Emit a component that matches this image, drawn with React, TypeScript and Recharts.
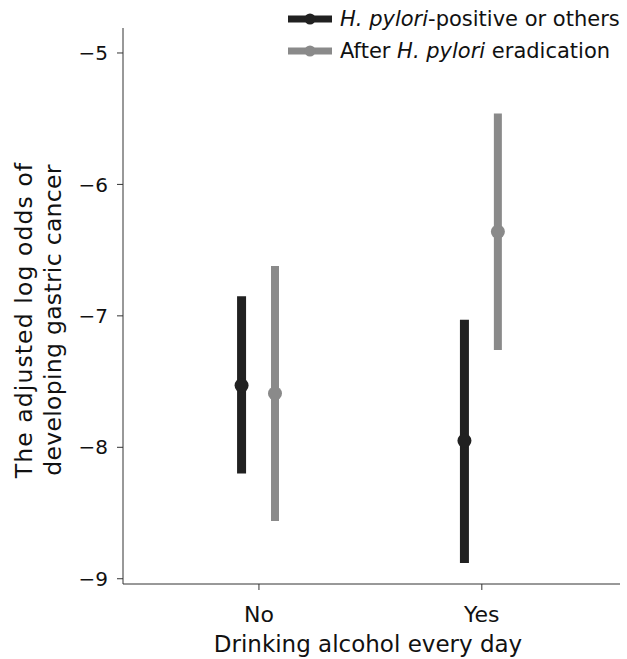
import { ScatterChart, Scatter, XAxis, YAxis, ErrorBar, Legend, Customized } from "recharts";

const categories = ["No", "Yes"];
const categoryPos = [0, 1];
const yTicks = [-9, -8, -7, -6, -5];

// H. pylori-positive or others
const positiveEst = [-7.53, -7.95];
const positiveLow = [-8.2, -8.88];
const positiveHigh = [-6.85, -7.03];

// After H. pylori eradication
const eradEst = [-7.59, -6.36];
const eradLow = [-8.56, -7.26];
const eradHigh = [-6.62, -5.46];

const seriesNames = ["H. pylori-positive or others", "After H. pylori eradication"];
const DARK = "#212121";
const GREY = "#8a8a8a";
const FONT = "DejaVu Sans";

const build = (est: number[], lo: number[], hi: number[], shift: number) =>
  est.map((v, i) => ({ x: categoryPos[i] + shift, y: v, err: [v - lo[i], hi[i] - v] }));

const positiveData = build(positiveEst, positiveLow, positiveHigh, -0.078);
const eradData = build(eradEst, eradLow, eradHigh, 0.072);

const fmtY = (v: number) => String(v).replace("-", "\u2212");
const fmtX = (v: number) => categories[categoryPos.indexOf(v)] ?? "";

const dot = (color: string) => (p: any) => <circle cx={p.cx} cy={p.cy} r={7} fill={color} />;

function LegendBox() {
  const rows = [
    { color: DARK, label: <><i>H. pylori</i>-positive or others</> },
    { color: GREY, label: <>After <i>H. pylori</i> eradication</> },
  ];
  return (
    <div style={{ fontFamily: FONT, fontSize: 21, color: "#111" }}>
      {rows.map((r, i) => (
        <div key={i} style={{ display: "flex", alignItems: "center", height: 32 }}>
          <svg width={44} height={14} style={{ marginRight: 8 }}>
            <line x1={0} x2={44} y1={7} y2={7} stroke={r.color} strokeWidth={7} />
            <circle cx={22} cy={7} r={5.5} fill={r.color} />
          </svg>
          <span style={{ whiteSpace: "nowrap" }}>{r.label}</span>
        </div>
      ))}
    </div>
  );
}

function AxisTitles() {
  return (
    <g fontFamily={FONT} fill="#111">
      <text x={32} y={320} fontSize={23.5} letterSpacing={1.1} textAnchor="middle" transform="rotate(-90, 32, 320)">
        The adjusted log odds of
      </text>
      <text x={61} y={320} fontSize={23.5} letterSpacing={0.3} textAnchor="middle" transform="rotate(-90, 61, 320)">
        developing gastric cancer
      </text>
      <text x={368} y={652} fontSize={23} textAnchor="middle">
        Drinking alcohol every day
      </text>
    </g>
  );
}

export default function App() {
  return (
    <div style={{ position: "absolute", left: 0, top: 0, background: "#fff" }}>
      <ScatterChart width={627} height={659} margin={{ top: 28, right: 7, bottom: 0, left: 0 }}>
        <XAxis
          type="number"
          dataKey="x"
          domain={[-0.61, 1.62]}
          ticks={categoryPos}
          tickFormatter={fmtX}
          height={75}
          stroke="#333"
          tickSize={6}
          tickMargin={16}
          tick={{ fontSize: 22, fill: "#111", fontFamily: FONT }}
        />
        <YAxis
          type="number"
          dataKey="y"
          domain={[-9.04, -4.81]}
          ticks={yTicks}
          tickFormatter={fmtY}
          width={123}
          stroke="#333"
          tickSize={6}
          tickMargin={9}
          tick={{ fontSize: 20, fill: "#111", fontFamily: FONT }}
        />
        <Legend
          layout="horizontal"
          verticalAlign="middle"
          align="center"
          content={() => <LegendBox />}
          wrapperStyle={{ top: 3, left: 288, width: 339, height: 64 }}
        />
        <Scatter name={seriesNames[0]} data={positiveData} fill={DARK} shape={dot(DARK)} isAnimationActive={false}>
          <ErrorBar dataKey="err" direction="y" width={0} strokeWidth={9} stroke={DARK} isAnimationActive={false} />
        </Scatter>
        <Scatter name={seriesNames[1]} data={eradData} fill={GREY} shape={dot(GREY)} isAnimationActive={false}>
          <ErrorBar dataKey="err" direction="y" width={0} strokeWidth={8} stroke={GREY} isAnimationActive={false} />
        </Scatter>
        <Customized component={AxisTitles} />
      </ScatterChart>
    </div>
  );
}
